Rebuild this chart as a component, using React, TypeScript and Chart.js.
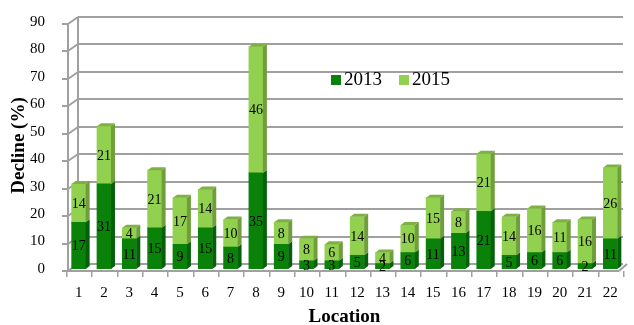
import React, { useEffect, useRef } from "react";
import { Chart, registerables } from "chart.js";

Chart.register(...registerables);

const locations = ["1","2","3","4","5","6","7","8","9","10","11","12","13","14","15","16","17","18","19","20","21","22"];
const decline2013 = [17, 31, 11, 15, 9, 15, 8, 35, 9, 3, 3, 5, 2, 6, 11, 13, 21, 5, 6, 6, 2, 11];
const decline2015 = [14, 21, 4, 21, 17, 14, 10, 46, 8, 8, 6, 14, 4, 10, 15, 8, 21, 14, 16, 11, 16, 26];
const seriesNames = ["2013", "2015"];
const yTicks = [0, 10, 20, 30, 40, 50, 60, 70, 80, 90];

const SERIF = "'Liberation Serif', 'Times New Roman', serif";
const FRONT = ["#0a820a", "#92d050"];
const SIDE = ["#05600a", "#6f9e3a"];
const TOP = ["#0b6e0b", "#7fb043"];
const DEPTH_X = 4;
const DEPTH_Y = 3;
const WALL_X = 10;
const WALL_Y = 7;
const WALL_COLOR = "#a0a0a0";

function seg(ctx: CanvasRenderingContext2D, x1: number, y1: number, x2: number, y2: number) {
  ctx.beginPath();
  ctx.moveTo(x1, y1);
  ctx.lineTo(x2, y2);
  ctx.stroke();
}

// Box-style back wall, side wall, floor and tick marks
function drawWalls(chart: any) {
  const ctx: CanvasRenderingContext2D = chart.ctx;
  const area = chart.chartArea;
  const y = chart.scales.y;
  const n = chart.data.labels.length;
  const step = (area.right - area.left) / n;
  const front = Math.round(area.left) + 2;
  const right = Math.round(area.right);
  const floorY = Math.round(y.getPixelForValue(0)) + 2;
  const topY = Math.round(y.getPixelForValue(90)) + 2;
  ctx.save();
  ctx.fillStyle = WALL_COLOR;
  ctx.strokeStyle = WALL_COLOR;
  ctx.lineWidth = 2;
  yTicks.forEach((v) => {
    const py = Math.round(y.getPixelForValue(v)) + 2;
    // tick mark and back-wall gridline as solid strips
    ctx.fillRect(front - 6, py - 1, 6, 2);
    ctx.fillRect(front + WALL_X, py - WALL_Y - 1, right - front - WALL_X, 2);
    seg(ctx, front, py, front + WALL_X, py - WALL_Y);
  });
  // side wall back edge and front axis
  ctx.fillRect(front + WALL_X - 1, topY - WALL_Y, 2, floorY - topY);
  ctx.fillRect(front - 1, topY, 2, floorY - topY);
  // floor front edge and right corner
  ctx.fillRect(front, floorY - 1, right - 4 - front, 2);
  seg(ctx, right - 4, floorY, right + 4, floorY - WALL_Y);
  // x tick marks between categories
  for (let i = 0; i <= n; i++) {
    const px = Math.round(area.left + i * step);
    ctx.fillRect(px, floorY, 1.5, 6);
  }
  ctx.restore();
}

// Side and top faces of each stacked bar, plus the value labels
function drawBarFaces(chart: any) {
  const { ctx } = chart;
  const nSets = chart.data.datasets.length;
  ctx.save();
  for (let d = 0; d < nSets; d++) {
    const meta = chart.getDatasetMeta(d);
    meta.data.forEach((bar: any) => {
      const { x, y, base, width } = bar.getProps(["x", "y", "base", "width"], true);
      const r = x + width / 2;
      const l = x - width / 2;
      ctx.fillStyle = SIDE[d];
      ctx.beginPath();
      ctx.moveTo(r, y);
      ctx.lineTo(r + DEPTH_X, y - DEPTH_Y);
      ctx.lineTo(r + DEPTH_X, base - DEPTH_Y);
      ctx.lineTo(r, base);
      ctx.closePath();
      ctx.fill();
      if (d === nSets - 1) {
        ctx.fillStyle = TOP[d];
        ctx.beginPath();
        ctx.moveTo(l, y);
        ctx.lineTo(l + DEPTH_X, y - DEPTH_Y);
        ctx.lineTo(r + DEPTH_X, y - DEPTH_Y);
        ctx.lineTo(r, y);
        ctx.closePath();
        ctx.fill();
      }
    });
  }
  ctx.fillStyle = "#000";
  ctx.font = `14px ${SERIF}`;
  ctx.textAlign = "center";
  ctx.textBaseline = "middle";
  for (let d = 0; d < nSets; d++) {
    const meta = chart.getDatasetMeta(d);
    const values = chart.data.datasets[d].data as number[];
    meta.data.forEach((bar: any, i: number) => {
      const { x, y, base } = bar.getProps(["x", "y", "base"], true);
      ctx.fillText(String(values[i]), x, (y + base) / 2 + 1);
    });
  }
  ctx.restore();
}

// Legend drawn inside the plot area
function drawInnerLegend(chart: any) {
  const { ctx } = chart;
  const items = [
    { x: 331, color: FRONT[0], label: seriesNames[0] },
    { x: 399, color: FRONT[1], label: seriesNames[1] },
  ];
  ctx.save();
  ctx.font = `19px ${SERIF}`;
  ctx.textBaseline = "middle";
  ctx.textAlign = "left";
  items.forEach((it) => {
    ctx.fillStyle = it.color;
    ctx.fillRect(it.x, 75, 10, 10);
    ctx.fillStyle = "#000";
    ctx.fillText(it.label, it.x + 13, 80);
  });
  ctx.restore();
}

const box3dPlugin = {
  id: "box3d",
  beforeDatasetsDraw(chart: any) {
    drawWalls(chart);
  },
  afterDatasetsDraw(chart: any) {
    drawBarFaces(chart);
  },
  afterDraw(chart: any) {
    drawInnerLegend(chart);
  },
};

export default function App() {
  const ref = useRef<HTMLCanvasElement>(null);

  useEffect(() => {
    if (!ref.current) return;
    const chart = new Chart(ref.current, {
      type: "bar",
      data: {
        labels: locations,
        datasets: [
          { label: seriesNames[0], data: decline2013, backgroundColor: FRONT[0], barThickness: 14 },
          { label: seriesNames[1], data: decline2015, backgroundColor: FRONT[1], barThickness: 14 },
        ],
      },
      options: {
        responsive: false,
        animation: false,
        layout: { padding: { top: 20, right: 11, left: 8, bottom: 0 } },
        plugins: { legend: { display: false }, tooltip: { enabled: false } },
        scales: {
          x: {
            stacked: true,
            offset: true,
            grid: { display: false },
            border: { display: false },
            ticks: { color: "#000", font: { family: SERIF, size: 15 }, padding: 7, maxRotation: 0 },
            title: { display: true, text: "Location", color: "#000", font: { family: SERIF, size: 19, weight: "bold" }, padding: { top: 4, bottom: -3 } },
            afterFit(scale: any) { scale.height = 56; },
          },
          y: {
            stacked: true,
            min: 0,
            max: 90,
            ticks: { stepSize: 10, color: "#000", font: { family: SERIF, size: 15 }, padding: 13 },
            grid: { display: false },
            border: { display: false },
            title: { display: true, text: "Decline (%)", color: "#000", font: { family: SERIF, size: 19, weight: "bold" }, padding: { top: 0, bottom: 0 } },
            afterFit(scale: any) { scale.width = 58; },
          },
        },
      },
      plugins: [box3dPlugin],
    });
    return () => chart.destroy();
  }, []);

  return (
    <div style={{ position: "fixed", left: 0, top: 0, width: 634, height: 325, background: "#fff" }}>
      <canvas ref={ref} width={634} height={325} />
    </div>
  );
}
